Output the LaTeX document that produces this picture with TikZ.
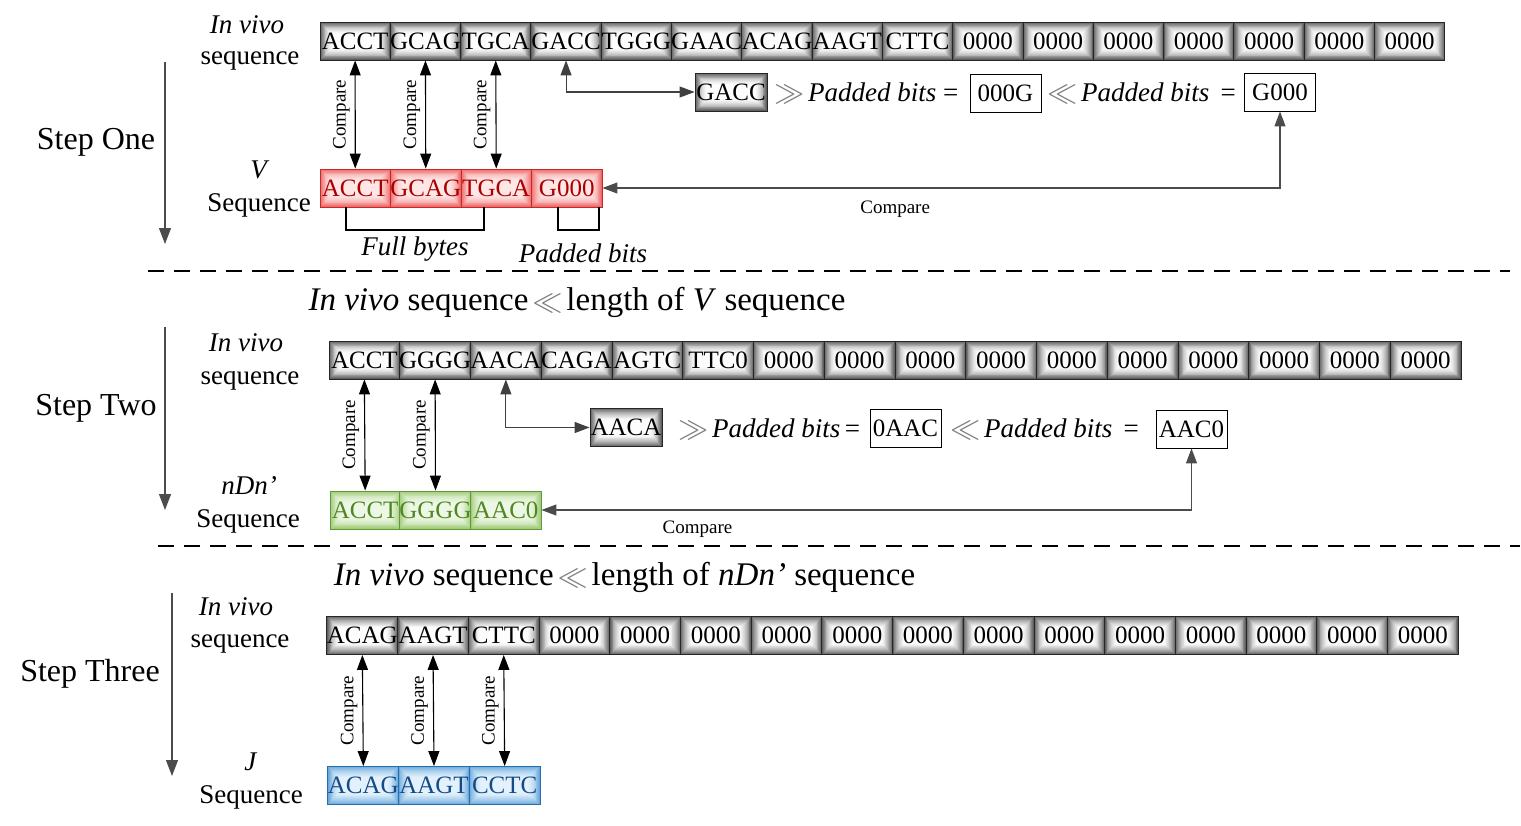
\documentclass[tikz,border=0pt]{standalone}
\usepackage{fontspec}
\setmainfont{Liberation Serif}
\usetikzlibrary{arrows.meta}
\usepackage{graphicx}
\definecolor{grayEdge}{RGB}{95,95,95}
\definecolor{grayCen}{RGB}{255,255,255}
\definecolor{rEdge}{RGB}{238,105,105}
\definecolor{rCen}{RGB}{255,232,232}
\definecolor{gEdge}{RGB}{160,205,120}
\definecolor{gCen}{RGB}{238,247,230}
\definecolor{bEdge}{RGB}{105,168,220}
\definecolor{bCen}{RGB}{228,242,252}
\definecolor{redtxt}{RGB}{170,0,0}
\definecolor{redline}{RGB}{200,40,40}
\definecolor{greentxt}{RGB}{80,135,35}
\definecolor{greenline}{RGB}{100,150,60}
\definecolor{bluetxt}{RGB}{20,75,135}
\definecolor{blueline}{RGB}{40,110,170}
\tikzset{
  glow/.style 2 args={path picture={
    \fill[#2] (path picture bounding box.south west) rectangle (path picture bounding box.north east);
    \foreach \k in {0,...,13}{
      \pgfmathsetmacro\gp{100*(1-\k/14)^1.8}
      \fill[#1!\gp!#2] ([shift={(\k*0.9pt,\k*0.9pt)}]path picture bounding box.south west) rectangle ([shift={(-\k*0.9pt,-\k*0.9pt)}]path picture bounding box.north east);
    }}},
  cellbase/.style={draw, line width=0.9pt, minimum height=38pt, inner sep=0pt, font=\fontsize{25}{25}\selectfont},
  gcell/.style={cellbase, glow={grayEdge}{grayCen}, draw=black!85},
  rcell/.style={cellbase, glow={rEdge}{rCen}, draw=redline, text=redtxt},
  ncell/.style={cellbase, glow={gEdge}{gCen}, draw=greenline, text=greentxt},
  jcell/.style={cellbase, glow={bEdge}{bCen}, draw=blueline, text=bluetxt},
  wbox/.style={draw, fill=white, line width=0.9pt, minimum width=71pt, minimum height=38pt, inner sep=0pt, font=\fontsize{25}{25}\selectfont},
  lbl/.style={inner sep=0pt, anchor=base, font=\fontsize{27}{27}\selectfont},
  steplbl/.style={inner sep=0pt, anchor=base, font=\fontsize{32}{32}\selectfont},
  headlbl/.style={inner sep=0pt, anchor=base, font=\fontsize{33}{33}\selectfont},
  cmp/.style={font=\fontsize{19}{19}\selectfont, inner sep=0pt},
  vcmp/.style={cmp, rotate=90, anchor=south, inner sep=5pt},
  tipA/.style={{Triangle[length=15pt,width=11pt]}-{Triangle[length=15pt,width=11pt]}},
  arr/.style={line width=1.1pt, tipA},
  steparr/.style={line width=1.1pt, draw=black!70, -{Triangle[length=16pt,width=12pt]}},
  sep/.style={line width=1.5pt, dash pattern=on 16pt off 10pt},
  bracket/.style={line width=1.6pt},
}
\newcommand{\chevR}{\makebox[38pt][c]{\color{black!50}\raisebox{-0.08em}{\scalebox{1.25}[1.45]{$\mathrel{>\mkern-9mu>}$}}}}
\newcommand{\chevL}{\makebox[38pt][c]{\color{black!50}\raisebox{-0.08em}{\scalebox{1.25}[1.45]{$\mathrel{<\mkern-9mu<}$}}}}
\begin{document}
\begin{tikzpicture}[x=1pt,y=-1pt]
\useasboundingbox (0,0) rectangle (1521,825);

% ================= Step One =================
\foreach [count=\i] \t in {ACCT,GCAG,TGCA,GACC,TGGG,GAAC,ACAG,AAGT,CTTC,0000,0000,0000,0000,0000,0000,0000}
  \node[gcell, minimum width=70.3pt] (a\i) at ({320+70.3*(\i-0.5)},41) {\t};
\foreach [count=\i] \t in {ACCT,GCAG,TGCA,G000}
  \node[rcell, minimum width=70.5pt] (v\i) at ({320+70.5*(\i-0.5)},188) {\t};

\node[lbl] (iv1) at (247,33) {\textit{In vivo}};
\node[lbl] (sq1) at (250,64) {sequence};
\node[lbl] (vl) at (260,178) {\textit{V}};
\node[lbl] (vs) at (259,211) {Sequence};
\node[steplbl] (st1) at (96,149) {Step One};
\coordinate (s1a) at (165,62);
\coordinate (s1b) at (165,244);
\draw[steparr] (s1a) -- (s1b);

\foreach \i in {1,2,3}
  \draw[arr] (a\i.south) -- node[vcmp, pos=0.5] {Compare} (v\i.north);

\node[gcell, minimum width=72pt] (gacc) at (731,92) {GACC};
\draw[arr, draw=black!75] (a4.south) |- (gacc.west);
\node[lbl, anchor=base west] (pb1) at (770,101) {\chevR\textit{Padded bits} =};
\node[wbox] (b000g) at (1005.5,93) {000G};
\node[lbl, anchor=base west] (pb2) at (1043,101) {\chevL\textit{Padded bits} \,=};
\node[wbox] (bg000) at (1280,92) {G000};
\draw[arr, draw=black!70] (v4.east) -| node[cmp, pos=0.216, below=12pt] (cmp1) {Compare} (bg000.south);

\coordinate (fb1) at (346,207);
\coordinate (fb2) at (346,230);
\coordinate (fb3) at (484,230);
\coordinate (fb4) at (484,207);
\draw[bracket] (fb1) -- (fb2) -- (fb3) -- (fb4);
\coordinate (pbk1) at (558,207);
\coordinate (pbk2) at (558,230);
\coordinate (pbk3) at (599,230);
\coordinate (pbk4) at (599,207);
\draw[bracket] (pbk1) -- (pbk2) -- (pbk3) -- (pbk4);
\node[lbl] (fbl) at (415,255) {\textit{Full bytes}};
\node[lbl] (pbl) at (583,262) {\textit{Padded bits}};

\coordinate (d1a) at (148,271);
\coordinate (d1b) at (1510,271);
\draw[sep] (d1a) -- (d1b);
\node[headlbl] (h1) at (577,310) {\textit{In vivo} sequence\chevL length of \textit{V} sequence};

% ================= Step Two =================
\foreach [count=\i] \t in {ACCT,GGGG,AACA,CAGA,AGTC,TTC0,0000,0000,0000,0000,0000,0000,0000,0000,0000,0000}
  \node[gcell, minimum width=70.75pt] (b\i) at ({329+70.75*(\i-0.5)},360) {\t};
\foreach [count=\i] \t in {ACCT,GGGG,AAC0}
  \node[ncell, minimum width=70.33pt] (n\i) at ({330+70.33*(\i-0.5)},510) {\t};

\node[lbl] (iv2) at (246,351) {\textit{In vivo}};
\node[lbl] (sq2) at (250,384) {sequence};
\node[lbl] (nl) at (249,494) {\textit{nDn’}};
\node[lbl] (ns) at (248,527) {Sequence};
\node[steplbl] (st2) at (96,415) {Step Two};
\coordinate (s2a) at (165,327);
\coordinate (s2b) at (165,510);
\draw[steparr] (s2a) -- (s2b);

\foreach \i in {1,2}
  \draw[arr] (b\i.south) -- node[vcmp, pos=0.5] {Compare} (n\i.north);

\node[gcell, minimum width=72pt] (aaca) at (626,427.5) {AACA};
\draw[arr, draw=black!75] (b3.south) |- (aaca.west);
\node[lbl, anchor=base west] (pb3) at (674,437) {\chevR\textit{Padded bits}\,=};
\node[wbox] (b0aac) at (905.5,428.5) {0AAC};
\node[lbl, anchor=base west] (pb4) at (946,437) {\chevL\textit{Padded bits} \,=};
\node[wbox] (baac0) at (1191.5,429) {AAC0};
\draw[arr, draw=black!70] (n3.east) -| node[cmp, pos=0.12, below=10pt] (cmp2) {Compare} (baac0.south);

\coordinate (d2a) at (158,546);
\coordinate (d2b) at (1520,546);
\draw[sep] (d2a) -- (d2b);
\node[headlbl] (h2) at (624.5,585) {\textit{In vivo} sequence\chevL length of \textit{nDn’} sequence};

% ================= Step Three =================
\foreach [count=\i] \t in {ACAG,AAGT,CTTC,0000,0000,0000,0000,0000,0000,0000,0000,0000,0000,0000,0000,0000}
  \node[gcell, minimum width=70.7pt] (c\i) at ({327+70.7*(\i-0.5)},635.5) {\t};
\foreach [count=\i] \t in {ACAG,AAGT,CCTC}
  \node[jcell, minimum width=70.67pt] (j\i) at ({328+70.67*(\i-0.5)},785.5) {\t};

\node[lbl] (iv3) at (236,615) {\textit{In vivo}};
\node[lbl] (sq3) at (240,647) {sequence};
\node[lbl] (jl) at (251,770) {\textit{J}};
\node[lbl] (js) at (251,803) {Sequence};
\node[steplbl] (st3) at (90,681) {Step Three};
\coordinate (s3a) at (172,593);
\coordinate (s3b) at (172,776);
\draw[steparr] (s3a) -- (s3b);

\foreach \i in {1,2,3}
  \draw[arr] (c\i.south) -- node[vcmp, pos=0.5] {Compare} (j\i.north);
\end{tikzpicture}
\end{document}
